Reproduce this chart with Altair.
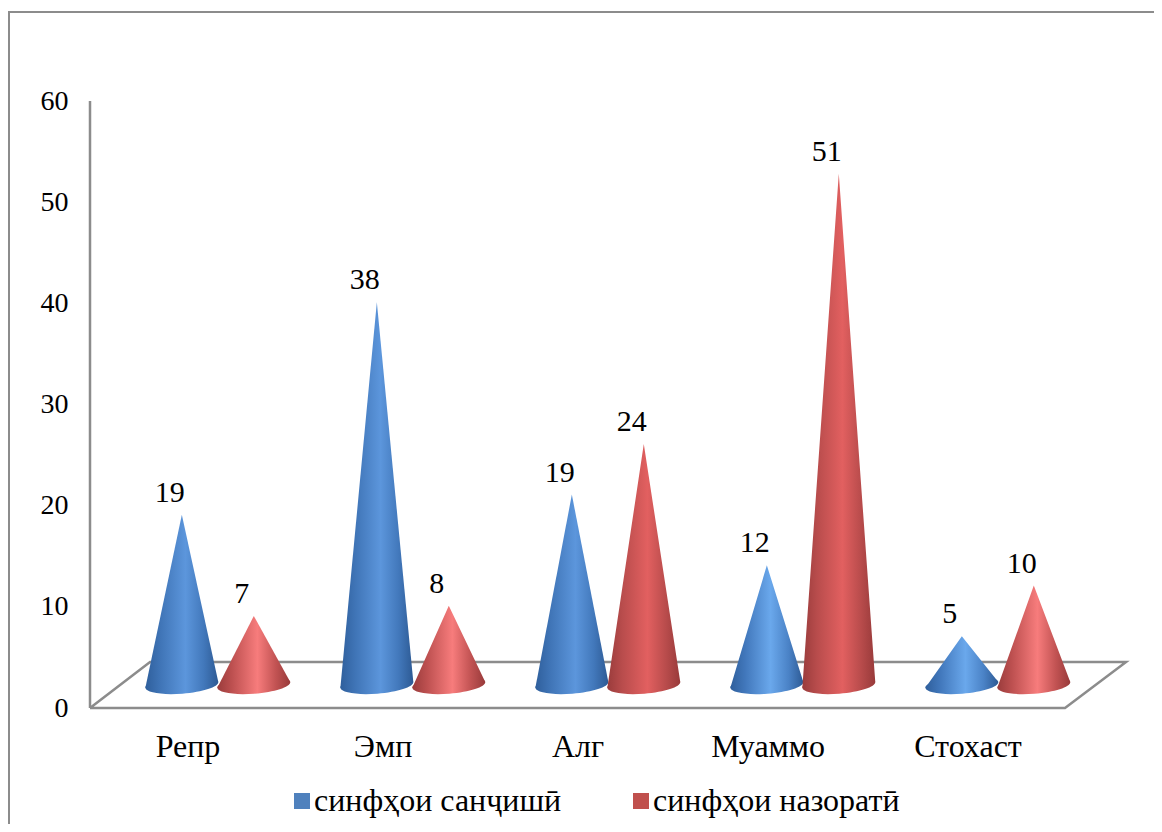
import altair as alt
import pandas as pd

categories = ["Репр", "Эмп", "Алг", "Муаммо", "Стохаст"]
category_pos = [0.5, 1.5, 2.5, 3.475, 4.5]
series_names = ["синфҳои санҷишӣ", "синфҳои назоратӣ"]
# printed data labels
labels_a = [19, 38, 19, 12, 5]
labels_b = [7, 8, 24, 51, 10]
# heights as drawn
heights_a = [17, 38, 19, 12, 5]
heights_b = [7, 8, 24, 50.7, 10]
yticks = [0, 10, 20, 30, 40, 50, 60]

FONT = "Liberation Serif"
GREY = "#8c8c8c"
UNIT = 195.0         # px per category
W, H = 1064, 607
XMAX = W / UNIT
APEX_SHIFT = 2.1     # depth offset of the floor, in y units
BASE_Y = 2.28
BASE_TILT = 0.28
HALF = 0.187
OFFS = {0: 0.471, 1: 0.84}

floor_x = [0, 5, 5.313, 0.308, 0]
floor_y = [0, 0, 4.55, 4.55, 0]


def grad(stops):
    return alt.LinearGradient(
        gradient="linear", x1=0, x2=1, y1=0, y2=0,
        stops=[alt.GradientStop(color=c, offset=o) for o, c in stops],
    )


BLUE = {
    "low": grad([(0, "#2f5f9c"), (0.2, "#4177bb"), (0.55, "#6aa8ec"), (0.8, "#4a82c6"), (1, "#2d5a94")]),
    "high": grad([(0, "#2f5f9c"), (0.2, "#3f74b6"), (0.55, "#5c96dc"), (0.8, "#4278bb"), (1, "#2d5a94")]),
}
RED = {
    "low": grad([(0, "#9a3c3c"), (0.2, "#bd5050"), (0.55, "#f77c7c"), (0.8, "#c25353"), (1, "#983a3a")]),
    "high": grad([(0, "#9a3c3c"), (0.2, "#b84c4c"), (0.55, "#e26060"), (0.8, "#b94c4c"), (1, "#983a3a")]),
}
ELLIPSE = "M-1,0.08 A1,0.24 -4.6 0 0 1,-0.08 A1,0.24 -4.6 0 0 -1,0.08 Z"

label_expr = "[" + ",".join(f"'{c}'" for c in categories) + "][floor(datum.value)]"

X = alt.X("x:Q", title=None, scale=alt.Scale(domain=[0, XMAX], nice=False, zero=False), axis=alt.Axis(
    values=category_pos, labelExpr=label_expr,
    domain=False, ticks=False, grid=False, labelFont=FONT, labelFontSize=32,
    labelColor="#000000", labelPadding=23, labelOverlap=False, labelBound=False, labelFlush=False))
Y = alt.Y("y:Q", title=None, scale=alt.Scale(domain=[0, 60], nice=False, zero=False), axis=alt.Axis(
    values=yticks, domain=False, ticks=False, grid=False, labelFont=FONT, labelFontSize=28,
    labelColor="#000000", labelPadding=22, labelOverlap=False, labelBound=False, labelFlush=False))

floor_df = pd.DataFrame({"x": floor_x, "y": floor_y, "o": range(len(floor_x))})
layers = []

layers.append(
    alt.Chart(floor_df).mark_line(color=GREY, strokeWidth=2.5, strokeJoin="miter").encode(
        x=X, y=Y, order="o:Q")
)

# back wall line
layers.append(
    alt.Chart(pd.DataFrame({"x": [0], "y": [0], "y2": [60]})).mark_rule(color=GREY, strokeWidth=2.5).encode(
        x=X, y=Y, y2="y2:Q")
)

# frame of the picture (top and left only)
layers.append(
    alt.Chart(pd.DataFrame({"k": [0]})).mark_rule(color=GREY, strokeWidth=2).encode(
        x=alt.value(-82), x2=alt.value(W), y=alt.value(-89))
)
layers.append(
    alt.Chart(pd.DataFrame({"k": [0]})).mark_rule(color=GREY, strokeWidth=2).encode(
        x=alt.value(-81), y=alt.value(-89), y2=alt.value(H + 116))
)

# cones
label_rows = []
for i, cat in enumerate(categories):
    for s, (hts, lbls, pal) in enumerate([(heights_a, labels_a, BLUE), (heights_b, labels_b, RED)]):
        v = hts[i]
        cx = i + OFFS[s]
        tier = "high" if v >= 15 else "low"
        g = pal[tier]
        top = v + APEX_SHIFT
        label_rows.append({"x": cx, "y": top, "t": str(lbls[i]), "series": series_names[s]})
        base = pd.DataFrame({"x": [cx], "y": [BASE_Y]})
        layers.append(
            alt.Chart(base).mark_point(filled=True, shape=ELLIPSE, size=(2 * HALF * UNIT) ** 2, fill=g, opacity=1).encode(
                x=X, y=Y)
        )
        tri = pd.DataFrame({
            "x": [cx - HALF, cx, cx + HALF],
            "y": [BASE_Y - BASE_TILT, top, BASE_Y + BASE_TILT],
            "y2": [BASE_Y - BASE_TILT, BASE_Y, BASE_Y + BASE_TILT],
        })
        layers.append(
            alt.Chart(tri).mark_area(fill=g, interpolate="linear").encode(x=X, y=Y, y2="y2:Q")
        )

label_df = pd.DataFrame(label_rows)
layers.append(
    alt.Chart(label_df).mark_text(font=FONT, fontSize=30, color="#000000", dx=-12, dy=-13, baseline="alphabetic", align="center").encode(
        x=X, y=Y, text="t:N")
)
# legend carrier
layers.append(
    alt.Chart(label_df).mark_point(filled=True, size=0, shape="square").encode(
        x=X, y=Y,
        color=alt.Color("series:N", scale=alt.Scale(domain=series_names, range=["#4f81bd", "#c0504d"]),
                        legend=alt.Legend(title=None, orient="none", legendX=196, legendY=684, direction="horizontal",
                                          columns=2, columnPadding=63, symbolType="square", symbolSize=256,
                                          symbolOpacity=1, labelFont=FONT, labelFontSize=32, labelColor="#000000",
                                          labelOffset=alt.ExprRef(expr="-4"), labelLimit=400)),
    )
)

chart = alt.layer(*layers).properties(
    width=W, height=H,
    padding={"left": 82, "top": 93, "right": 0, "bottom": 116},
    autosize=alt.AutoSizeParams(type="none"),
    background="#ffffff",
).configure_view(stroke=None)

chart.save("out.html", embed_options={"renderer": "svg", "actions": False})
